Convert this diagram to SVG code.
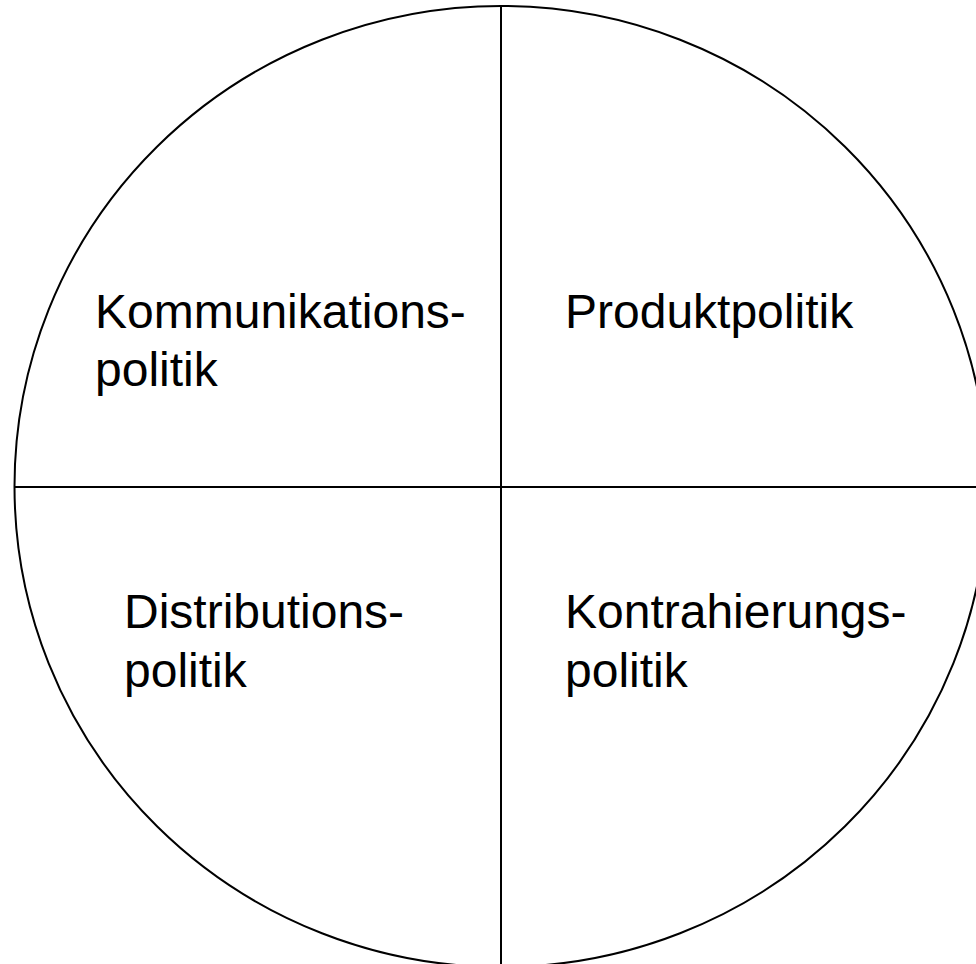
<svg xmlns="http://www.w3.org/2000/svg" width="976" height="964" viewBox="0 0 976 964">
<style>
.ln{stroke:#000;stroke-width:2;fill:none}
.t{font-family:"Liberation Sans",Arial,sans-serif;font-size:48px;fill:#000}
</style>
<rect width="976" height="964" fill="#fff"/>
<g id="circle"><ellipse class="ln" cx="501" cy="486.5" rx="486.5" ry="480.5"/></g>
<g id="connectors">
<line class="ln" x1="501" y1="6" x2="501" y2="964"/>
<line class="ln" x1="14" y1="487" x2="976" y2="487"/>
</g>
<g id="kommunikation"><text class="t" x="95" y="328">Kommunikations-</text><text class="t" x="95" y="386">politik</text></g>
<g id="produkt"><text class="t" x="565" y="328">Produktpolitik</text></g>
<g id="distribution"><text class="t" x="124" y="628">Distributions-</text><text class="t" x="124" y="687">politik</text></g>
<g id="kontrahierung"><text class="t" x="565" y="628">Kontrahierungs-</text><text class="t" x="565" y="687">politik</text></g>
</svg>
